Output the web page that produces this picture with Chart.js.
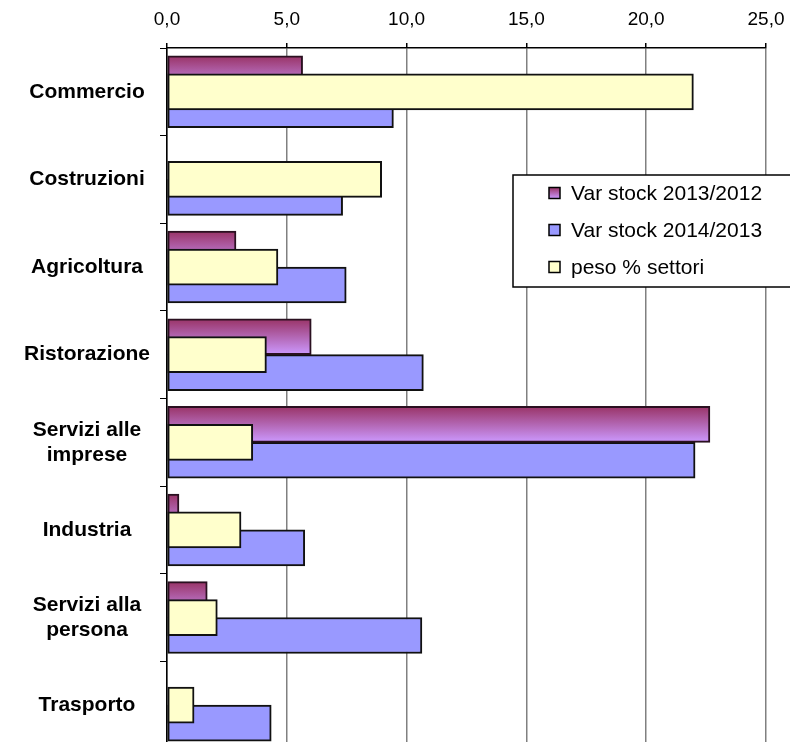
<!DOCTYPE html>
<html>
<head>
<meta charset="utf-8">
<script src="https://cdn.jsdelivr.net/npm/chart.js@4"></script>
<style>
    body { margin: 0; background: #fff; overflow: hidden; }
</style>
</head>
<body>
<canvas id="myChart" width="790" height="750"></canvas>
<script>
// dati
const categories = ['Commercio', 'Costruzioni', 'Agricoltura', 'Ristorazione',
    ['Servizi alle', 'imprese'], 'Industria', ['Servizi alla', 'persona'], 'Trasporto'];
const varStock1312 = [5.66, null, 2.88, 6.02, 22.66, 0.50, 1.68, null];
const varStock1413 = [9.45, 7.33, 7.48, 10.70, 22.04, 5.75, 10.64, 4.35];
const pesoSettori = [21.97, 8.96, 4.63, 4.15, 3.58, 3.09, 2.10, 1.13];
const xTicks = [0, 5, 10, 15, 20, 25];

const seriesNames = ['Var stock 2013/2012', 'Var stock 2014/2013', 'peso % settori'];

// barre sovrapposte come in Excel: spostamento in unita' di categoria
const SHIFT = [-0.205, 0.205, 0];
const BAR = 36;

const BLUE = '#9999ff';
const YELLOW = '#ffffcc';

function purpleGradient(g, top, bottom) {
    const grad = g.createLinearGradient(0, top, 0, bottom);
    grad.addColorStop(0, '#993366');
    grad.addColorStop(1, '#cc99ff');
    return grad;
}

function purpleFill(context) {
    const chart = context.chart;
    if (!chart.chartArea || context.type !== 'data') return '#b070c0';
    const c = chart.scales.y.getPixelForValue(context.dataIndex + SHIFT[0]);
    return purpleGradient(chart.ctx, c - BAR / 2, c + BAR / 2);
}

function toPoints(values, shift) {
    return values.map((v, i) => ({ x: v, y: i + shift }));
}

// legenda disegnata dentro l'area del grafico
const boxLegend = {
    id: 'boxLegend',
    afterDatasetsDraw(chart) {
        const g = chart.ctx;
        const left = 513, top = 175, height = 112;
        g.save();
        g.fillStyle = '#fff';
        g.strokeStyle = '#000';
        g.lineWidth = 1.5;
        g.fillRect(left, top, 300, height);
        g.strokeRect(left, top, 300, height);
        g.font = '21px Arial, "Liberation Sans", sans-serif';
        g.textBaseline = 'middle';
        const fills = [null, BLUE, YELLOW];
        seriesNames.forEach((name, i) => {
            const cy = top + 18 + i * 37;
            const mx = 549, ms = 11;
            g.fillStyle = i === 0 ? purpleGradient(g, cy - ms / 2, cy + ms / 2) : fills[i];
            g.fillRect(mx, cy - ms / 2, ms, ms);
            g.lineWidth = 1.5;
            g.strokeStyle = '#000';
            g.strokeRect(mx, cy - ms / 2, ms, ms);
            g.fillStyle = '#000';
            g.fillText(name, 571, cy + 1);
        });
        g.restore();
    }
};

Chart.defaults.font.family = 'Arial, "Liberation Sans", sans-serif';
Chart.defaults.color = '#000';

const ctx = document.getElementById('myChart').getContext('2d');
const chart = new Chart(ctx, {
    type: 'bar',
    data: {
        labels: categories,
        datasets: [{
            label: seriesNames[0],
            data: toPoints(varStock1312, SHIFT[0]),
            backgroundColor: purpleFill,
            borderColor: '#2a1020',
            order: 1
        }, {
            label: seriesNames[1],
            data: toPoints(varStock1413, SHIFT[1]),
            backgroundColor: BLUE,
            borderColor: '#111',
            order: 2
        }, {
            label: seriesNames[2],
            data: toPoints(pesoSettori, SHIFT[2]),
            backgroundColor: YELLOW,
            borderColor: '#111',
            order: 0
        }]
    },
    options: {
        responsive: false,
        animation: false,
        indexAxis: 'y',
        grouped: false,
        barThickness: BAR,
        borderWidth: 2,
        borderSkipped: false,
        layout: { padding: { left: 0, right: 24, top: 0, bottom: 1 } },
        plugins: {
            legend: { display: false },
            tooltip: { enabled: false }
        },
        scales: {
            x: {
                type: 'linear',
                position: 'top',
                min: 0,
                max: 25,
                afterBuildTicks: (scale) => { scale.ticks = xTicks.map(v => ({ value: v })); },
                afterFit: (scale) => {
                    scale.height = 48;
                    scale.paddingLeft = 0;
                    scale.paddingRight = 0;
                },
                ticks: {
                    font: { size: 19 },
                    padding: 12,
                    callback: (v) => v.toFixed(1).replace('.', ',')
                },
                grid: {
                    color: '#808080',
                    lineWidth: 1.5,
                    tickColor: '#000',
                    tickLength: 5
                },
                border: { color: '#000', width: 1.5 }
            },
            y: {
                type: 'linear',
                display: false,
                offset: false,
                grid: { offset: false },
                reverse: true,
                min: -0.5,
                max: 7.5
            },
            yLab: {
                type: 'category',
                position: 'left',
                offset: true,
                afterFit: (scale) => {
                    scale.width = 167;
                    scale.paddingTop = 0;
                    scale.paddingBottom = 0;
                },
                ticks: {
                    font: { size: 21, weight: 'bold' },
                    crossAlign: 'center',
                    padding: 10
                },
                grid: {
                    offset: true,
                    drawOnChartArea: false,
                    tickColor: '#000',
                    tickLength: 7
                },
                border: { color: '#000', width: 1.5 }
            }
        }
    },
    plugins: [boxLegend]
});
</script>
</body>
</html>
